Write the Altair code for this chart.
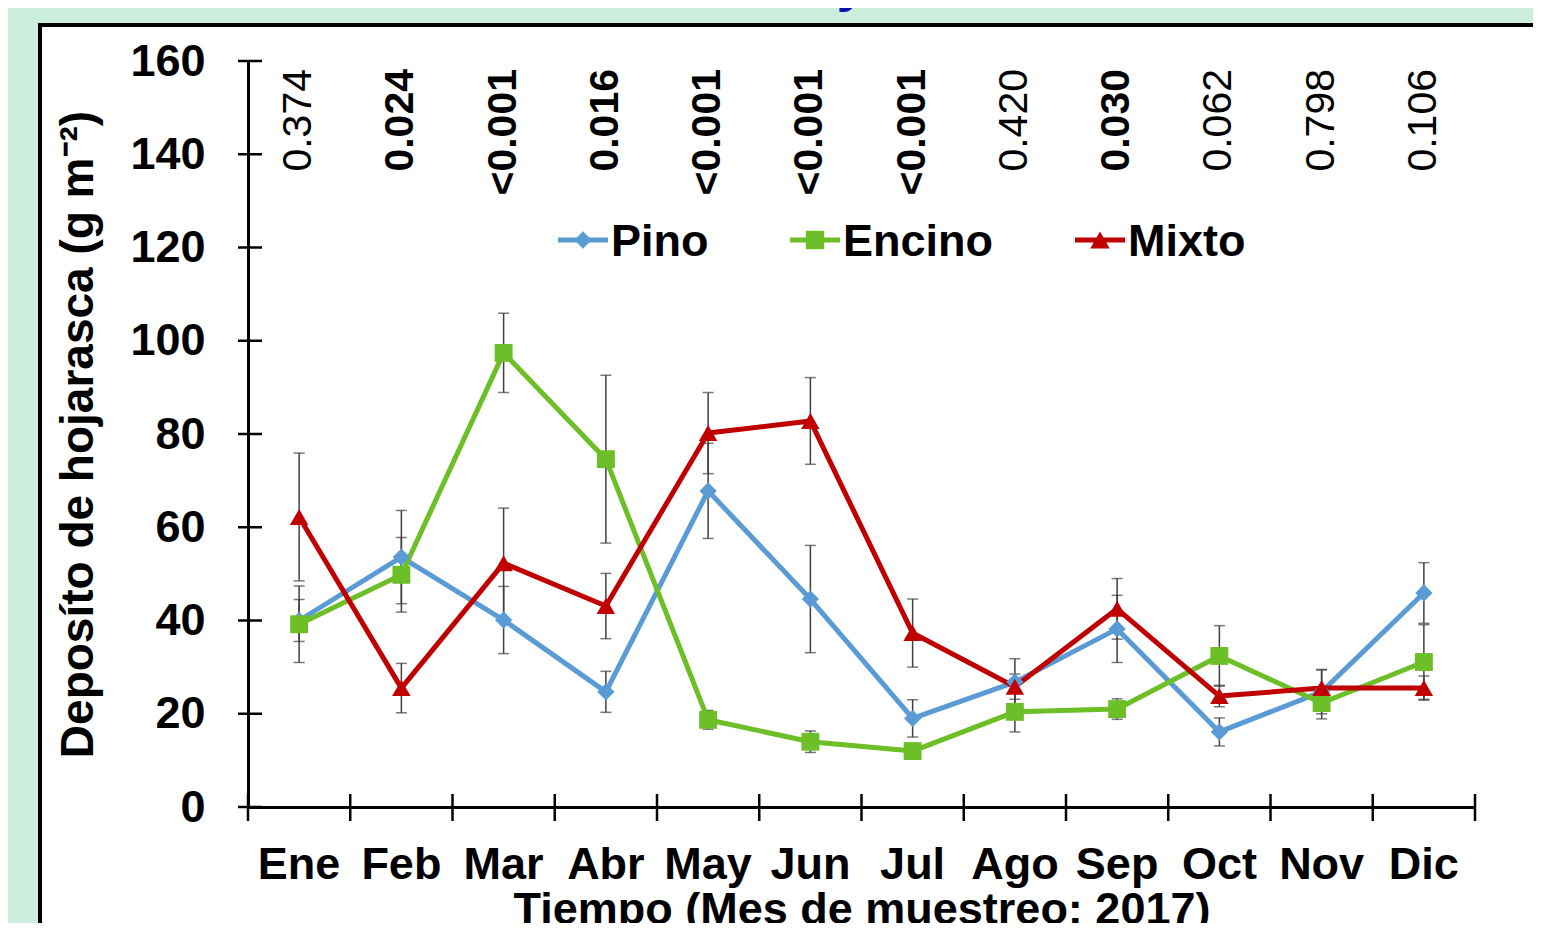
import altair as alt
import pandas as pd

# ---------------- data ----------------
months = ["Ene", "Feb", "Mar", "Abr", "May", "Jun", "Jul", "Ago", "Sep", "Oct", "Nov", "Dic"]
series = ["Pino", "Encino", "Mixto"]

pino = [40.0, 53.6, 40.1, 24.7, 67.8, 44.6, 19.0, 26.8, 38.2, 16.1, 24.7, 45.9]
pino_err = [4.5, 10.0, 7.2, 4.4, 10.2, 11.5, 4.0, 5.0, 7.2, 3.0, 4.7, 6.5]
encino = [39.2, 49.8, 97.4, 74.6, 18.7, 14.0, 12.0, 20.4, 21.0, 32.4, 22.3, 31.1]
encino_err = [8.2, 8.0, 8.5, 18.0, 2.0, 2.3, 0.8, 4.3, 2.2, 6.5, 3.4, 8.0]
mixto = [62.2, 25.5, 52.3, 43.1, 80.2, 82.8, 37.3, 25.8, 42.5, 23.8, 25.5, 25.5]
mixto_err = [13.7, 5.3, 11.8, 7.0, 8.7, 9.3, 7.3, 2.7, 6.5, 2.3, 4.0, 2.6]

pvals = ["0.374", "0.024", "<0.001", "0.016", "<0.001", "<0.001", "<0.001",
         "0.420", "0.030", "0.062", "0.798", "0.106"]

yticks = [0, 20, 40, 60, 80, 100, 120, 140, 160]

rows = []
for name, vals, errs in zip(series, [pino, encino, mixto], [pino_err, encino_err, mixto_err]):
    for m, v, e in zip(months, vals, errs):
        rows.append({"mes": m, "serie": name, "valor": v, "err": e})
df = pd.DataFrame(rows)

sig = [p.startswith("<") or float(p) < 0.05 for p in pvals]
pdf = pd.DataFrame({"mes": months, "p": pvals, "sig": sig})
mdf = pd.DataFrame({"mes": months})
ydf = pd.DataFrame({"v": yticks})

# ---------------- styling ----------------
FONT = "Liberation Sans"
W, H = 1227, 746
BG = "#ccefdd"
colors = ["#5b9bd5", "#6cbf26", "#c00000"]
shapes = ["diamond", "square", "triangle-up"]
sizes = [300, 340, 380]
legend_left = [310, 542, 827]   # left end of each legend entry (plot pixels)
legend_y = 179

x_scale = alt.Scale(type="band", paddingInner=0, paddingOuter=0)
x_axis = alt.Axis(
    title="Tiempo (Mes de muestreo; 2017)", labelAngle=0, ticks=False, grid=False,
    domainColor="black", domainWidth=3, labelFont=FONT, labelFontSize=45,
    labelFontWeight="bold", labelColor="black", labelPadding=35,
    titleFont=FONT, titleFontSize=45, titleFontWeight="bold", titleColor="black",
    titlePadding=0, zindex=1,
)
y_scale = alt.Scale(domain=[0, 160], nice=False)
y_axis = alt.Axis(
    title="Deposíto de hojarasca (g m⁻²)", values=yticks, ticks=False, grid=False,
    domainColor="black", domainWidth=3, labelFont=FONT, labelFontSize=45,
    labelFontWeight="bold", labelColor="black", labelPadding=43,
    titleFont=FONT, titleFontSize=46, titleFontWeight="bold", titleColor="black",
    titlePadding=27, zindex=1,
)


def X(**kw):
    return alt.X("mes:N", sort=months, scale=x_scale, axis=x_axis, **kw)


def Y(field):
    return alt.Y(field, scale=y_scale, axis=y_axis)


color = alt.Color("serie:N", scale=alt.Scale(domain=series, range=colors), legend=None)

# ---------------- layers ----------------
one = pd.DataFrame({"k": [0]})
panel = alt.Chart(one).mark_rect(
    fill="white", stroke="black", strokeWidth=4
).encode(x=alt.value(-208), x2=alt.value(1400), y=alt.value(-36), y2=alt.value(1000))

title_tip = alt.Chart(one).mark_text(
    text="y", font=FONT, fontSize=56, fontWeight="bold", color="#1010b0",
    baseline="alphabetic", align="center"
).encode(x=alt.value(604), y=alt.value(-61))

base = alt.Chart(df).transform_calculate(
    lo="datum.valor - datum.err", hi="datum.valor + datum.err"
)
err_col = "#404040"
err_rule = base.mark_rule(color=err_col, strokeWidth=1.5).encode(
    x=X(), y=Y("lo:Q"), y2="hi:Q", detail="serie:N"
)
err_lo = base.mark_tick(color=err_col, thickness=1.5, size=11).encode(x=X(), y=Y("lo:Q"))
err_hi = base.mark_tick(color=err_col, thickness=1.5, size=11).encode(x=X(), y=Y("hi:Q"))

lines = alt.Chart(df).mark_line(strokeWidth=5, strokeJoin="round", strokeCap="round").encode(
    x=X(), y=Y("valor:Q"), color=color, order=alt.Order("idx:Q"),
).transform_calculate(idx="indexof(%s, datum.mes)" % str(months))

points = alt.Chart(df).mark_point(filled=True, opacity=1, strokeWidth=0).encode(
    x=X(), y=Y("valor:Q"), color=color,
    shape=alt.Shape("serie:N", scale=alt.Scale(domain=series, range=shapes), legend=None),
    size=alt.Size("serie:N", scale=alt.Scale(domain=series, range=sizes), legend=None),
)

pbase = alt.Chart(pdf)
p_bold = pbase.transform_filter("datum.sig").mark_text(
    font=FONT, fontSize=41, fontWeight="bold", angle=270, align="right",
    baseline="middle", color="black"
).encode(x=X(), y=alt.value(8), text="p:N")
p_norm = pbase.transform_filter("!datum.sig").mark_text(
    font=FONT, fontSize=41, fontWeight="normal", angle=270, align="right",
    baseline="middle", color="black"
).encode(x=X(), y=alt.value(8), text="p:N")

xt = alt.Chart(mdf).mark_rule(color="black", strokeWidth=2.5).encode(
    x=X(bandPosition=0), y=alt.value(H - 13), y2=alt.value(H + 14)
)
xt_end = alt.Chart(mdf).transform_filter("datum.mes === 'Dic'").mark_rule(
    color="black", strokeWidth=2.5
).encode(x=X(bandPosition=1), y=alt.value(H - 13), y2=alt.value(H + 14))

yt = alt.Chart(ydf).mark_rule(color="black", strokeWidth=2.5).encode(
    y=Y("v:Q"), x=alt.value(-10), x2=alt.value(14)
)

# legend (line + marker + bold label), built from the series list
legend_layers = []
for s, c, sh, sz, lx in zip(series, colors, shapes, sizes, legend_left):
    ld = pd.DataFrame({"serie": [s]})
    legend_layers.append(alt.Chart(ld).mark_rule(color=c, strokeWidth=5).encode(
        x=alt.value(lx), x2=alt.value(lx + 50), y=alt.value(legend_y)))
    legend_layers.append(alt.Chart(ld).mark_point(
        filled=True, shape=sh, size=sz, color=c, opacity=1, strokeWidth=0
    ).encode(x=alt.value(lx + 25), y=alt.value(legend_y)))
    legend_layers.append(alt.Chart(ld).mark_text(
        font=FONT, fontSize=45, fontWeight="bold", color="black",
        align="left", baseline="middle"
    ).encode(x=alt.value(lx + 53), y=alt.value(legend_y + 2), text="serie:N"))

chart = alt.layer(
    panel, title_tip, err_rule, err_lo, err_hi, lines, points, p_bold, p_norm,
    xt, xt_end, yt, *legend_layers
).properties(
    width=W, height=H,
    padding={"left": 240, "top": 53, "right": 58, "bottom": 116},
    autosize=alt.AutoSizeParams(type="none"),
    background=BG,
).configure_view(stroke=None)

chart.save("out.html", embed_options={"renderer": "svg", "actions": False})
